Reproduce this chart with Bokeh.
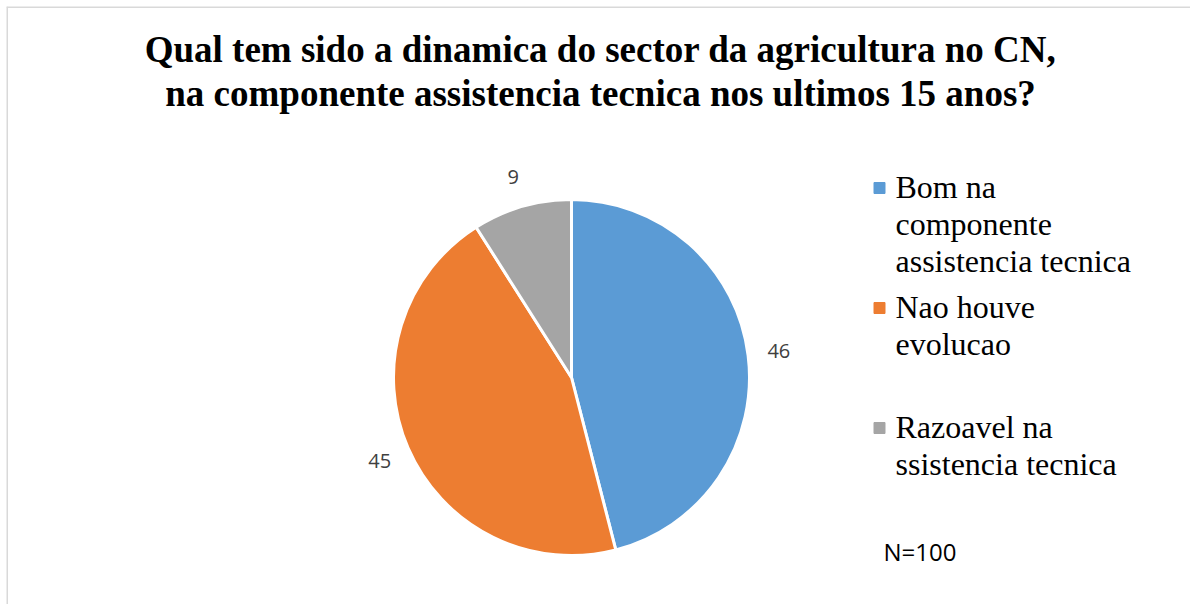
import math
from bokeh.plotting import figure
from bokeh.models import Range1d, Label, ColumnDataSource, Span
from bokeh.core.properties import value
from bokeh.embed import file_html
from bokeh.resources import INLINE

# ---- data ----
categories = ["Bom na\ncomponente\nassistencia tecnica",
              "Nao houve\nevolucao",
              "Razoavel na\nssistencia tecnica"]
counts = [46, 45, 9]
colors = ["#5b9bd5", "#ed7d31", "#a5a5a5"]
title_lines = ["Qual tem sido a dinamica do sector da agricultura no CN,",
               "na componente assistencia tecnica nos ultimos 15 anos?"]
note = "N=100"

W, H = 1190, 604
TOP = 582
p = figure(width=W, height=H, output_backend="svg", toolbar_location=None,
           x_range=Range1d(0, W - 6), y_range=Range1d(TOP - (H - 6), TOP),
           min_border_left=6, min_border_top=6, min_border_right=0,
           min_border_bottom=0)
p.axis.visible = False
p.grid.visible = False
p.outline_line_color = None
p.background_fill_color = "white"
p.add_layout(Span(location=0.5, dimension="height", line_color="#d9d9d9", line_width=2))
p.add_layout(Span(location=TOP - 0.5, dimension="width", line_color="#d9d9d9", line_width=2))

cx, cy, R = 565, 211, 178
total = sum(counts)
starts, ends, mids = [], [], []
cum = 0
for c in counts:
    a0 = math.pi / 2 - 2 * math.pi * cum / total
    cum += c
    a1 = math.pi / 2 - 2 * math.pi * cum / total
    starts.append(a0)
    ends.append(a1)
    mids.append((a0 + a1) / 2)

src = ColumnDataSource(dict(start=starts, end=ends, color=colors))
p.wedge(x=cx, y=cy, radius=R, start_angle="start", end_angle="end",
        direction="clock", fill_color="color", line_color="white",
        line_width=3, source=src)

# data labels
LR = 209
lsrc = ColumnDataSource(dict(
    x=[cx + LR * math.cos(m) for m in mids],
    y=[cy + LR * math.sin(m) for m in mids],
    t=[str(c) for c in counts]))
p.text(x="x", y="y", text="t", source=lsrc, text_font=value("Open Sans"),
       text_font_size="20px", text_color="#404040", text_align="center",
       text_baseline="middle")

# title
for i, line in enumerate(title_lines):
    p.add_layout(Label(x=594, y=539 - 44 * i, text=line,
                       text_font="Liberation Serif", text_font_style="bold",
                       text_font_size="37px", text_color="black",
                       text_align="center", text_baseline="alphabetic"))

# legend
mk = dict(x=[], y=[], color=[])
tx = dict(x=[], y=[], t=[])
for i, (lab, col) in enumerate(zip(categories, colors)):
    base = 402 - 120 * i
    mk["x"].append(873)
    mk["y"].append(base - 1.5)
    mk["color"].append(col)
    for j, ln in enumerate(lab.split("\n")):
        tx["x"].append(889)
        tx["y"].append(base - 37 * j)
        tx["t"].append(ln)
p.scatter(x="x", y="y", color="color", marker="square", size=11,
          source=ColumnDataSource(mk))
p.text(x="x", y="y", text="t", source=ColumnDataSource(tx),
       text_font=value("Liberation Serif"), text_font_size="32px",
       text_color="black", text_align="left", text_baseline="alphabetic")

p.add_layout(Label(x=877, y=37, text=note, text_font="Open Sans",
                   text_font_size="24px", text_color="black",
                   text_baseline="alphabetic"))

open("out.html", "w").write(file_html(p, INLINE))
